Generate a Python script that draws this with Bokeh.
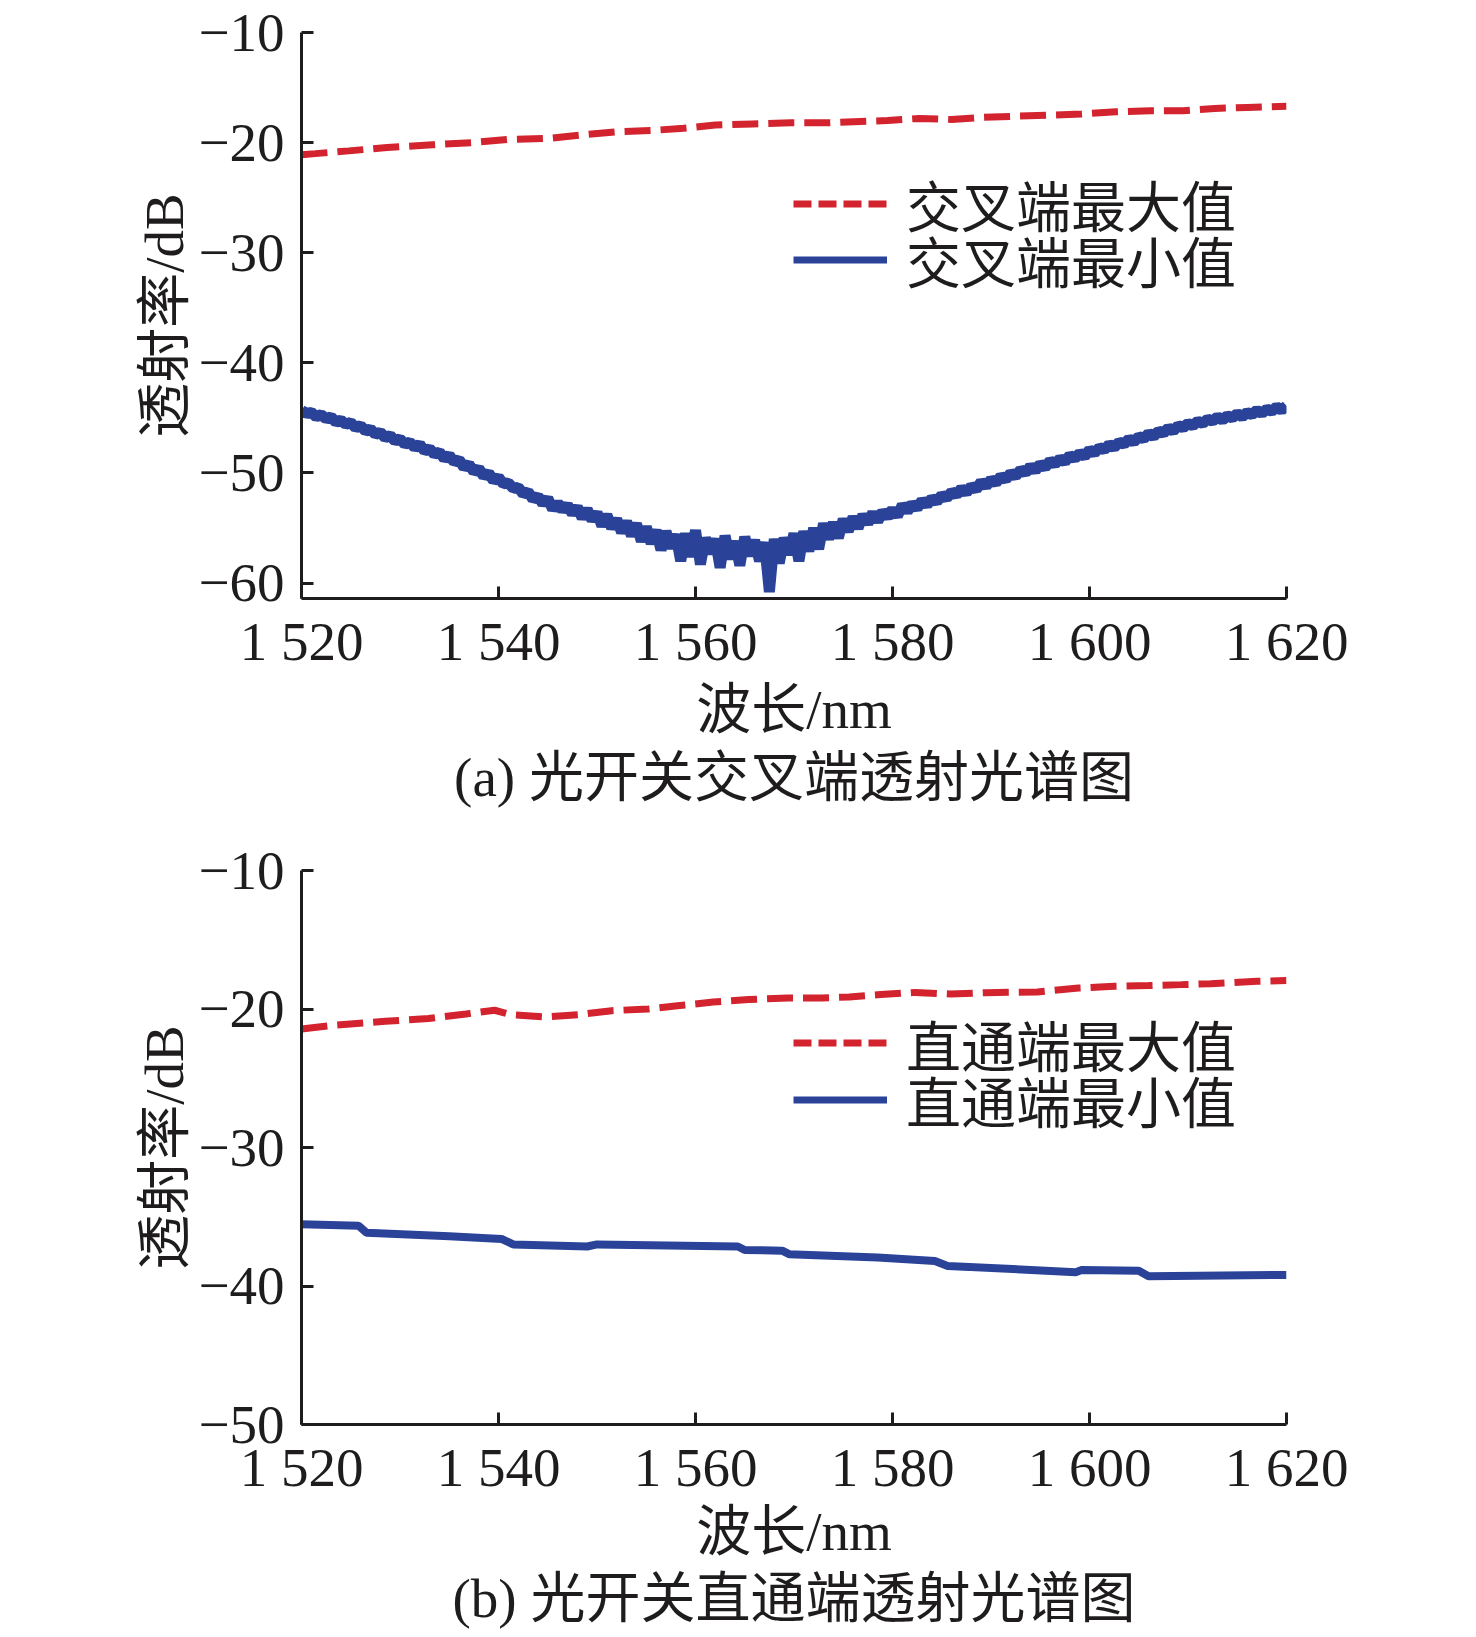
from bokeh.plotting import figure
from bokeh.models import Range1d, FixedTicker, Legend, LegendItem, Title
from bokeh.layouts import column
from bokeh.embed import file_html
from bokeh.resources import INLINE

# ---------------- data ----------------
wl_ticks = [1520, 1540, 1560, 1580, 1600, 1620]
wl_tick_labels = ["1 520", "1 540", "1 560", "1 580", "1 600", "1 620"]

a_y_ticks = [-10, -20, -30, -40, -50, -60]
a_y_tick_labels = ["\u221210", "\u221220", "\u221230", "\u221240", "\u221250", "\u221260"]
b_y_ticks = [-10, -20, -30, -40, -50]
b_y_tick_labels = ["\u221210", "\u221220", "\u221230", "\u221240", "\u221250"]

x_label = "波长/nm"
y_label = "透射率/dB"
a_caption = "(a) 光开关交叉端透射光谱图"
b_caption = "(b) 光开关直通端透射光谱图"
a_names = ["交叉端最大值", "交叉端最小值"]
b_names = ["直通端最大值", "直通端最小值"]

# (a) cross port, maximum
a_max_wl = [1520, 1521.4, 1524.8, 1528.7, 1533.3, 1537.3, 1541.2, 1545.3, 1548.5, 1552.2,
            1555.5, 1558.8, 1562, 1565.8, 1569.7, 1573.3, 1576.1, 1579.5, 1582.7, 1586,
            1589.2, 1592.5, 1596.1, 1599.2, 1602.7, 1606.2, 1609.5, 1612.7, 1616, 1620]
a_max_db = [-21.1, -21.0, -20.75, -20.45, -20.2, -20.0, -19.7, -19.6, -19.3, -19.0,
            -18.9, -18.7, -18.4, -18.3, -18.2, -18.2, -18.1, -18.0, -17.8, -17.9,
            -17.7, -17.6, -17.5, -17.4, -17.2, -17.1, -17.1, -16.9, -16.8, -16.7]

# (a) cross port, minimum (noisy trace, 0.5 nm steps)
a_min_wl = [1520, 1520.5, 1521, 1521.5, 1522, 1522.5, 1523, 1523.5, 1524, 1524.5,
            1525, 1525.5, 1526, 1526.5, 1527, 1527.5, 1528, 1528.5, 1529, 1529.5,
            1530, 1530.5, 1531, 1531.5, 1532, 1532.5, 1533, 1533.5, 1534, 1534.5,
            1535, 1535.5, 1536, 1536.5, 1537, 1537.5, 1538, 1538.5, 1539, 1539.5,
            1540, 1540.5, 1541, 1541.5, 1542, 1542.5, 1543, 1543.5, 1544, 1544.5,
            1545, 1545.5, 1546, 1546.5, 1547, 1547.5, 1548, 1548.5, 1549, 1549.5,
            1550, 1550.5, 1551, 1551.5, 1552, 1552.5, 1553, 1553.5, 1554, 1554.5,
            1555, 1555.5, 1556, 1556.5, 1557, 1557.5, 1558, 1558.5, 1559, 1559.5,
            1560, 1560.5, 1561, 1561.5, 1562, 1562.5, 1563, 1563.5, 1564, 1564.5,
            1565, 1565.5, 1566, 1566.5, 1567, 1567.5, 1568, 1568.5, 1569, 1569.5,
            1570, 1570.5, 1571, 1571.5, 1572, 1572.5, 1573, 1573.5, 1574, 1574.5,
            1575, 1575.5, 1576, 1576.5, 1577, 1577.5, 1578, 1578.5, 1579, 1579.5,
            1580, 1580.5, 1581, 1581.5, 1582, 1582.5, 1583, 1583.5, 1584, 1584.5,
            1585, 1585.5, 1586, 1586.5, 1587, 1587.5, 1588, 1588.5, 1589, 1589.5,
            1590, 1590.5, 1591, 1591.5, 1592, 1592.5, 1593, 1593.5, 1594, 1594.5,
            1595, 1595.5, 1596, 1596.5, 1597, 1597.5, 1598, 1598.5, 1599, 1599.5,
            1600, 1600.5, 1601, 1601.5, 1602, 1602.5, 1603, 1603.5, 1604, 1604.5,
            1605, 1605.5, 1606, 1606.5, 1607, 1607.5, 1608, 1608.5, 1609, 1609.5,
            1610, 1610.5, 1611, 1611.5, 1612, 1612.5, 1613, 1613.5, 1614, 1614.5,
            1615, 1615.5, 1616, 1616.5, 1617, 1617.5, 1618, 1618.5, 1619, 1619.5,
            1620]
a_min_db = [-44.3, -44.6, -44.5, -44.9, -44.7, -45.1, -44.9, -45.4, -45.2, -45.6,
            -45.4, -45.9, -45.7, -46.2, -46.0, -46.5, -46.3, -46.8, -46.6, -47.1,
            -46.9, -47.4, -47.2, -47.7, -47.4, -48.0, -47.8, -48.3, -48.1, -48.7,
            -48.4, -49.0, -48.8, -49.5, -49.2, -49.9, -49.6, -50.3, -50.0, -50.7,
            -50.4, -51.0, -50.9, -51.4, -51.3, -51.9, -51.7, -52.4, -52.1, -52.8,
            -52.3, -53.3, -52.7, -53.4, -52.9, -53.7, -53.1, -54.1, -53.3, -54.3,
            -53.6, -54.8, -53.8, -55.0, -54.2, -55.4, -54.4, -55.7, -54.6, -56.2,
            -54.9, -56.4, -55.2, -57.0, -55.3, -56.8, -55.6, -58.0, -55.5, -57.6,
            -55.2, -58.3, -55.9, -57.3, -56.0, -58.6, -55.7, -57.8, -56.2, -58.4,
            -55.8, -57.5, -56.1, -58.0, -56.3, -60.8, -56.0, -58.2, -55.9, -57.4,
            -55.5, -58.0, -55.3, -57.1, -55.0, -56.9, -54.6, -56.0, -54.5, -55.9,
            -54.2, -55.3, -54.0, -55.0, -53.8, -54.6, -53.6, -54.4, -53.5, -54.0,
            -53.3, -53.9, -52.9, -53.5, -52.8, -53.2, -52.5, -52.9, -52.3, -52.6,
            -52.0, -52.3, -51.7, -52.0, -51.4, -51.8, -51.2, -51.5, -50.8, -51.2,
            -50.6, -50.9, -50.3, -50.6, -50.0, -50.3, -49.7, -50.0, -49.4, -49.8,
            -49.2, -49.5, -48.9, -49.2, -48.7, -49.0, -48.4, -48.7, -48.2, -48.5,
            -47.9, -48.2, -47.7, -47.9, -47.4, -47.7, -47.2, -47.4, -46.9, -47.2,
            -46.7, -46.9, -46.4, -46.7, -46.2, -46.4, -45.9, -46.2, -45.7, -45.9,
            -45.5, -45.7, -45.3, -45.5, -45.1, -45.3, -44.9, -45.2, -44.8, -45.0,
            -44.6, -44.9, -44.5, -44.7, -44.3, -44.6, -44.2, -44.4, -44.0, -44.3,
            -43.9]

# (b) through port, maximum
b_max_wl = [1520, 1523.1, 1528.5, 1532.9, 1536.7, 1539.6, 1541.3, 1544.8, 1548.1, 1551.5,
            1555.2, 1558.4, 1561.8, 1565.4, 1569.4, 1572.8, 1575.6, 1578.8, 1582.3, 1585.9,
            1589.5, 1594.7, 1598.9, 1602.5, 1606, 1609.3, 1612.3, 1617, 1620]
b_max_db = [-21.45, -21.18, -20.89, -20.69, -20.36, -20.09, -20.41, -20.57, -20.41, -20.12,
            -20.0, -19.75, -19.5, -19.32, -19.2, -19.2, -19.13, -18.96, -18.8, -18.92,
            -18.82, -18.77, -18.49, -18.36, -18.31, -18.24, -18.17, -18.0, -17.95]

# (b) through port, minimum
b_min_wl = [1520, 1525.8, 1526.6, 1535, 1540.3, 1541.5, 1549, 1550, 1564.3, 1565,
            1568.8, 1569.5, 1578.5, 1584.3, 1585.6, 1598.6, 1599.2, 1605, 1606, 1620]
b_min_db = [-35.55, -35.65, -36.15, -36.4, -36.6, -37.0, -37.15, -37.0, -37.15, -37.4,
            -37.45, -37.7, -37.95, -38.2, -38.55, -39.0, -38.85, -38.9, -39.3, -39.2]

# ---------------- style ----------------
RED = "#d2232e"
BLUE = "#2a4399"
INK = "#1e1c1c"
SERIF = '"Liberation Serif"'
FONT = '"Liberation Serif", "Noto Sans CJK SC"'
FS = "55px"
NAN = float("nan")


def make_panel(y_lo, y_hi, y_ticks, y_labels, max_wl, max_db, min_wl, min_db,
               names, caption, frame_h, top_b, bottom_b, leg_rows, min_w,
               xlab_standoff, cap_standoff):
    p = figure(output_backend="svg", toolbar_location=None,
               frame_width=985, frame_height=frame_h,
               min_border_left=301, min_border_right=100,
               min_border_top=top_b, min_border_bottom=bottom_b,
               x_range=Range1d(1520, 1620), y_range=Range1d(y_lo, y_hi),
               background_fill_color="white", border_fill_color="white")
    p.outline_line_color = None
    p.grid.visible = False

    p.line(max_wl, max_db, line_color=RED, line_width=7, line_dash="26 10")
    p.line(min_wl, min_db, line_color=BLUE, line_width=min_w)

    # legend swatches (drawn only inside the legend)
    dmax = p.line([NAN], [NAN], line_color=RED, line_width=7, line_dash="18 7")
    dmin = p.line([NAN], [NAN], line_color=BLUE, line_width=7)

    for ax in (p.xaxis[0], p.yaxis[0]):
        ax.axis_line_width = 3
        ax.axis_line_color = INK
        ax.major_tick_line_width = 3
        ax.major_tick_line_color = INK
        ax.major_tick_in = 12
        ax.major_tick_out = 0
        ax.minor_tick_line_color = None
        ax.major_label_text_font = SERIF
        ax.major_label_text_font_size = FS
        ax.major_label_text_color = INK
        ax.axis_label_text_font = FONT
        ax.axis_label_text_font_size = FS
        ax.axis_label_text_font_style = "normal"
        ax.axis_label_text_color = INK

    p.xaxis.ticker = FixedTicker(ticks=wl_ticks)
    p.xaxis.major_label_overrides = dict(zip(wl_ticks, wl_tick_labels))
    p.xaxis.axis_label = x_label
    p.xaxis.major_label_standoff = 12
    p.xaxis.axis_label_standoff = xlab_standoff

    p.yaxis.ticker = FixedTicker(ticks=y_ticks)
    p.yaxis.major_label_overrides = dict(zip(y_ticks, y_labels))
    p.yaxis.axis_label = y_label
    p.yaxis.major_label_standoff = 17
    p.yaxis.axis_label_standoff = 0

    for name, rend, yloc in zip(names, [dmax, dmin], leg_rows):
        leg = Legend(items=[LegendItem(label=name, renderers=[rend])],
                     location=(492, yloc), glyph_width=94, glyph_height=79,
                     label_height=110, label_standoff=19, padding=0, margin=0,
                     spacing=0, border_line_alpha=0, background_fill_alpha=0,
                     label_text_font=FONT, label_text_font_size=FS,
                     label_text_color=INK)
        p.add_layout(leg)

    p.add_layout(Title(text=caption, align="center", text_font=FONT,
                       text_font_size=FS, text_font_style="normal",
                       text_color=INK, standoff=cap_standoff), "below")
    return p


pa = make_panel(-61.4, -10, a_y_ticks, a_y_tick_labels, a_max_wl, a_max_db,
                a_min_wl, a_min_db, a_names, a_caption,
                frame_h=566, top_b=32, bottom_b=240, leg_rows=[340, 284],
                min_w=11, xlab_standoff=4, cap_standoff=4)
pb = make_panel(-50, -10, b_y_ticks, b_y_tick_labels, b_max_wl, b_max_db,
                b_min_wl, b_min_db, b_names, b_caption,
                frame_h=554, top_b=32, bottom_b=213, leg_rows=[326.5, 270],
                min_w=8, xlab_standoff=0, cap_standoff=3)

layout = column(pa, pb, spacing=0)
open("out.html", "w").write(file_html(layout, INLINE))
